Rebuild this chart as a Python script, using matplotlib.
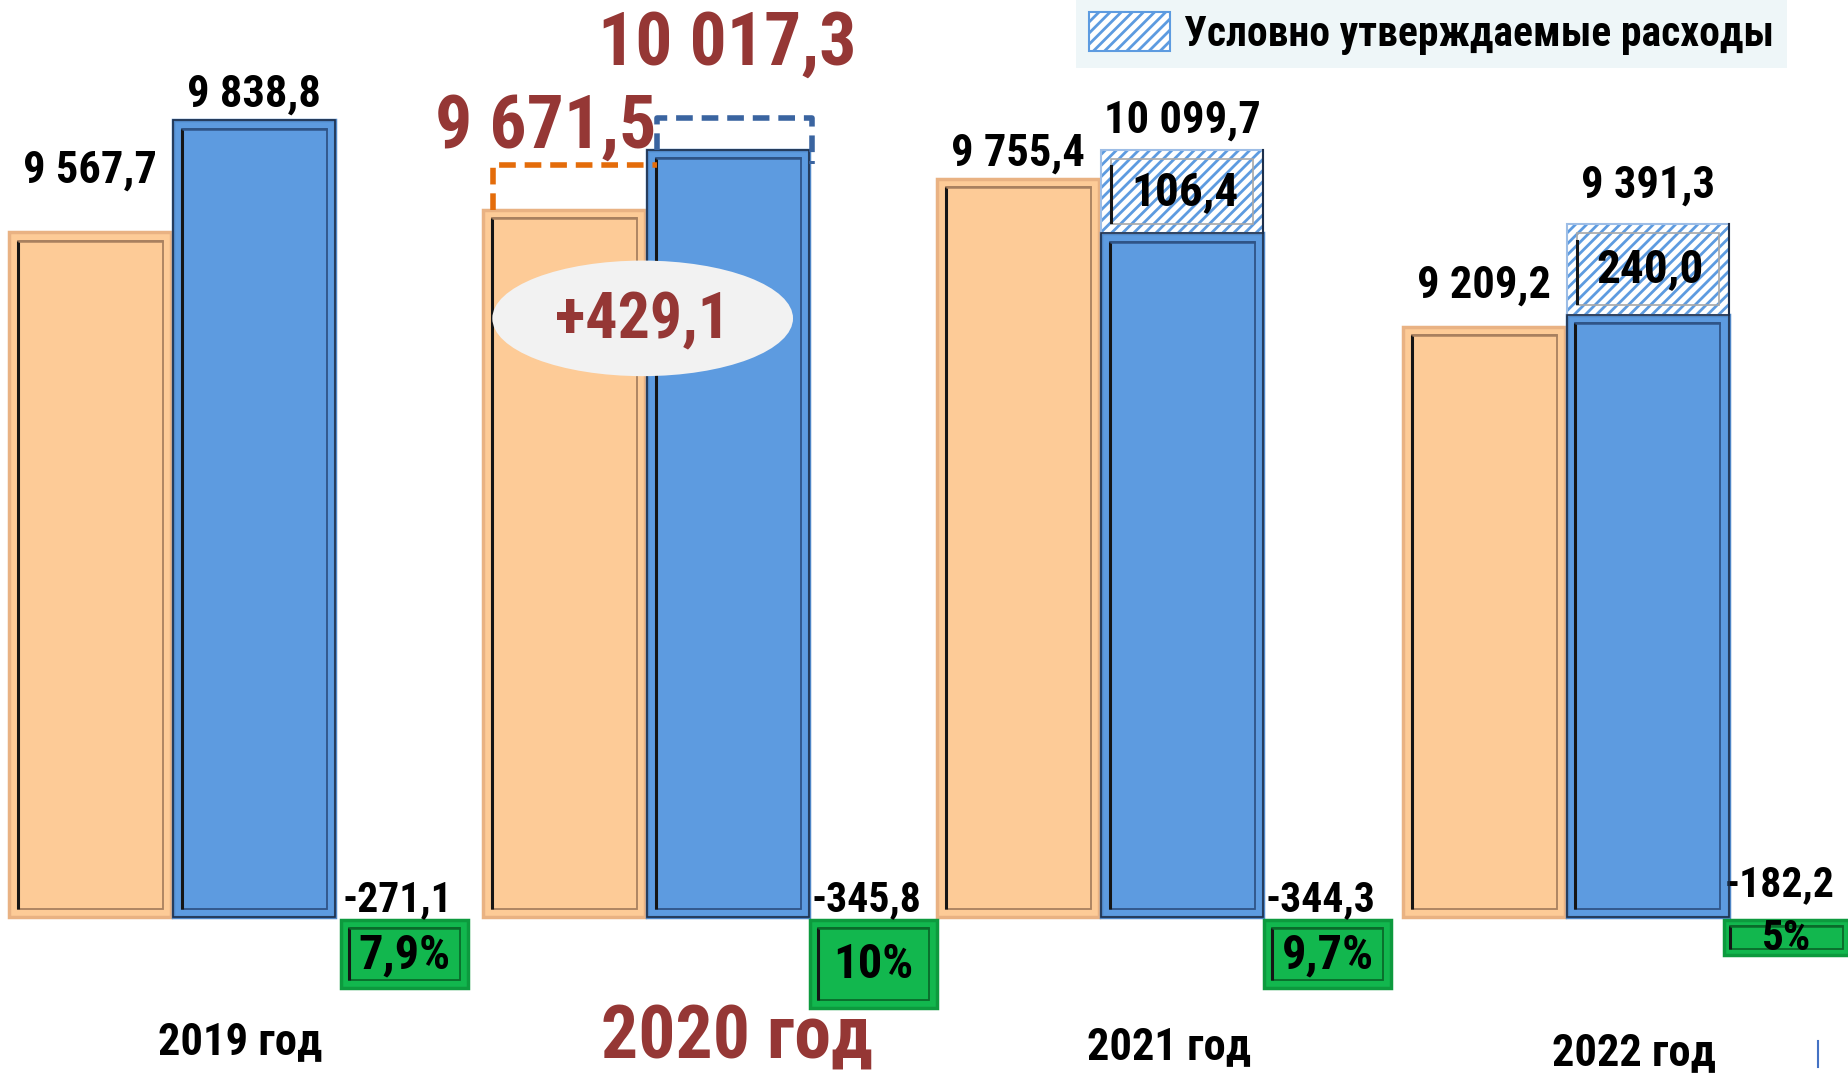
import matplotlib
matplotlib.use("Agg")
import matplotlib.pyplot as plt
from matplotlib import font_manager
from matplotlib.patches import Rectangle, Ellipse, Patch

# values shown on the chart (mln rub)
years = ["2019 год", "2020 год", "2021 год", "2022 год"]
revenue = [9567.7, 9671.5, 9755.4, 9209.2]
expense = [9838.8, 10017.3, 10099.7, 9391.3]
conditional = [0.0, 0.0, 106.4, 240.0]
deficit = [-271.1, -345.8, -344.3, -182.2]
deficit_pct = [7.9, 10, 9.7, 5]
increase_2020 = 429.1

# drawn heights as they appear in the picture (the chart is not to scale)
rev_height = [581, 600, 626, 501]
exp_height = [676, 651, 580, 511]
cond_height = [0, 0, 71, 77]
def_height = [58, 75, 58, 30]
rev_2020_new = 638
exp_2020_new = 678

# layout
group_left = [8, 410, 795, 1190]
green_left = [289, 687, 1072, 1462]
green_w = [108, 108, 108, 106]
bar_w = 137
blue_off = 139
rev_lab_off = [52, 0, 22, 35]
exp_lab_off = [22, 0, 25, 33]

names = {f.name for f in font_manager.fontManager.ttflist}
narrow = ["Arial Narrow", "Liberation Sans Narrow", "Roboto Condensed",
          "Open Sans Condensed", "Noto Sans Condensed", "Archivo Narrow"]
picked = [n for n in narrow if n in names][:1]
FAMILY = picked + ["Liberation Sans", "DejaVu Sans"]
FONT = dict(family=FAMILY)

ORANGE, ORANGE_L, ORANGE_D = "#FDCB97", "#E9B283", "#A8805F"
BLUE, BLUE_L, BLUE_D = "#5D9BE0", "#4F86C6", "#2F5487"
GREEN, GREEN_L, GREEN_D = "#12B74E", "#0D9A3E", "#0A6A2A"
RED = "#953735"


def fmt(v):
    return f"{v:,.1f}".replace(",", " ").replace(".", ",")


fig = plt.figure(figsize=(18.49, 10.73), dpi=100)
ax = fig.add_axes([0, 0, 1, 1])
ax.set_xlim(0, 1568)
ax.set_ylim(-132, 778)
ax.axis("off")


def bevel(lefts, heights, widths, bottoms, face, light, dark):
    ax.bar(lefts, heights, widths, bottoms, align="edge", color=face,
           edgecolor=light, linewidth=2.5, zorder=2)
    for x, h, w, b in zip(lefts, heights, widths, bottoms):
        if h == 0:
            continue
        y0, y1 = min(b, b + h), max(b, b + h)
        d = 7 if (y1 - y0) > 40 else 5
        ax.add_patch(Rectangle((x + d, y0 + d), w - 2 * d, y1 - y0 - 2 * d,
                               fill=False, edgecolor=dark, lw=1.3, zorder=3))
        ax.plot([x + d, x + d], [y0 + d, y1 - d], color="#151515", lw=2.2,
                zorder=4, solid_capstyle="butt")
        ax.plot([x + d, x + w - d], [y1 - d, y1 - d], color=dark, lw=1.8,
                zorder=4, solid_capstyle="butt")


blue_left = [g + blue_off for g in group_left]
bevel(group_left, rev_height, [bar_w] * 4, [0] * 4, ORANGE, ORANGE_L, ORANGE_D)
bevel(blue_left, exp_height, [bar_w] * 4, [0] * 4, BLUE, BLUE_L, BLUE_D)
ax.bar(blue_left, exp_height, bar_w, align="edge", fill=False,
       edgecolor="#1E2F4A", linewidth=1.2, zorder=5)

# conditionally approved expenses (hatched part)
plt.rcParams["hatch.linewidth"] = 2.0
ax.bar(blue_left, cond_height, bar_w, exp_height, align="edge",
       facecolor="white", edgecolor="#5D9BE0", hatch="///", linewidth=0, zorder=2)
for x, h, b in zip(blue_left, cond_height, exp_height):
    if h == 0:
        continue
    ax.add_patch(Rectangle((x, b), bar_w, h, fill=False, edgecolor="#9DBDE6",
                           lw=1.5, zorder=3))
    ax.add_patch(Rectangle((x + 8, b + 8), bar_w - 16, h - 16, fill=False,
                           edgecolor="#A8A8A8", lw=1.2, zorder=3))
    ax.plot([x + 8, x + 8], [b + 10, b + h - 14], color="#151515", lw=2.2, zorder=4)
    ax.plot([x + bar_w, x + bar_w], [b, b + h], color="#1E2F4A", lw=1.5, zorder=4)

# deficit boxes
bevel(green_left, [-h for h in def_height], green_w, [-2] * 4, GREEN, GREEN_L, GREEN_D)

# value labels
lab = dict(fontsize=32, fontweight="bold", ha="center", va="center", color="black", **FONT)
for i in range(4):
    if i == 1:
        continue
    ax.text(group_left[i] + bar_w / 2, rev_height[i] + rev_lab_off[i], fmt(revenue[i]), **lab)
    top = exp_height[i] + cond_height[i]
    ax.text(blue_left[i] + bar_w / 2, top + exp_lab_off[i], fmt(expense[i]), **lab)
    if conditional[i]:
        ax.text(blue_left[i] + bar_w / 2 + 2, exp_height[i] + cond_height[i] / 2,
                fmt(conditional[i]), fontsize=34, fontweight="bold", ha="center",
                va="center", zorder=6, **FONT)

for i in range(4):
    ax.text(green_left[i] + green_w[i] / 2 - 6, 15 if i < 3 else 28, fmt(deficit[i]),
            fontsize=30, fontweight="bold", ha="center", va="center", **FONT)
    pct = f"{deficit_pct[i]:g}".replace(".", ",") + "%"
    ax.text(green_left[i] + green_w[i] / 2, -2 - def_height[i] / 2 - 1, pct,
            fontsize=35 if i < 3 else 31, fontweight="bold", ha="center",
            va="center", zorder=6, **FONT)

# 2020: amended values
x0 = group_left[1] + 8
x1 = blue_left[1] + 8
x2 = blue_left[1] + bar_w + 3
ax.plot([x0, x0, x1], [rev_height[1], rev_2020_new, rev_2020_new],
        color="#E46C0A", lw=4, ls=(0, (3, 1.6)), zorder=6)
ax.plot([x1, x1, x2, x2], [exp_height[1], exp_2020_new, exp_2020_new, exp_height[1] - 12],
        color="#3A64A0", lw=4, ls=(0, (3, 1.6)), zorder=6)
ax.text(463, 670, fmt(revenue[1]), fontsize=53, fontweight="bold", color=RED,
        ha="center", va="center", **FONT)
ax.text(617, 740, fmt(expense[1]), fontsize=53, fontweight="bold", color=RED,
        ha="center", va="center", **FONT)
ax.add_patch(Ellipse((545, 508), 255, 98, facecolor="#F2F2F2", edgecolor="none", zorder=7))
ax.text(545, 506, f"+{increase_2020:.1f}".replace(".", ","), fontsize=46,
        fontweight="bold", color=RED, ha="center", va="center", zorder=8, **FONT)

# year labels
year_y = [-106, -102, -110, -115]
for i, y in enumerate(years):
    if i == 1:
        ax.text(625, year_y[i], y, fontsize=53, fontweight="bold", color=RED,
                ha="center", va="center", **FONT)
    else:
        ax.text(group_left[i] + 196, year_y[i], y, fontsize=32, fontweight="bold",
                ha="center", va="center", **FONT)

ax.plot([1542, 1542], [778 - 883, 778 - 905], color="#4472C4", lw=1.5)

# legend
leg_handle = Patch(facecolor="white", edgecolor="#5D9BE0", hatch="///", linewidth=1.5)
leg = ax.legend([leg_handle], ["Условно утверждаемые расходы"], loc="upper left",
                bbox_to_anchor=(0.582, 1.0), frameon=True, fancybox=False,
                facecolor="#EEF6F8", edgecolor="none", framealpha=1,
                handlelength=1.95, handleheight=1.05, handletextpad=0.35,
                borderpad=0.3, borderaxespad=0,
                prop=font_manager.FontProperties(size=30, weight="bold", family=FAMILY))

fig.savefig("out.png", dpi=100)
